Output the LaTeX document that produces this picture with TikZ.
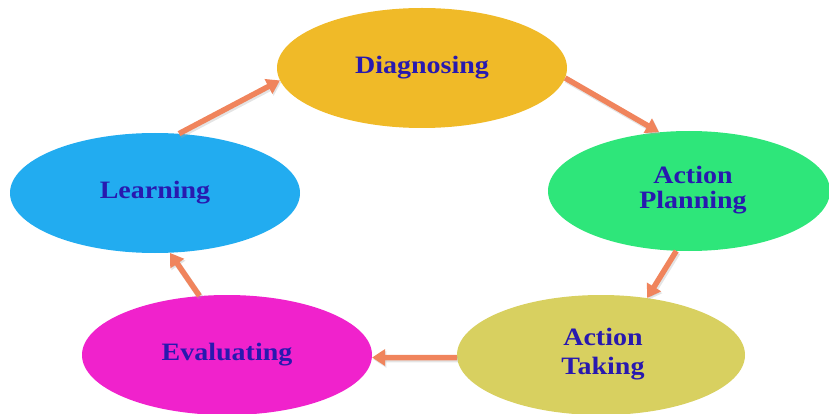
\documentclass[tikz,border=0pt]{standalone}
\usepackage{fontspec}
\setmainfont{Liberation Serif}
\usetikzlibrary{shapes.geometric,arrows.meta}

\definecolor{labelblue}{RGB}{40,25,175}
\definecolor{cdiag}{RGB}{240,186,40}
\definecolor{cplan}{RGB}{46,230,122}
\definecolor{clearn}{RGB}{34,172,240}
\definecolor{ceval}{RGB}{240,34,204}
\definecolor{ctake}{RGB}{216,208,96}
\definecolor{carrow}{RGB}{240,132,92}

\newcommand{\steplabel}[1]{\scalebox{1.12}[1]{\begin{tabular}{@{}c@{}}#1\end{tabular}}}

\tikzset{
  phase/.style={ellipse, draw=none, inner sep=0pt,
    minimum width=290pt, minimum height=120pt,
    font=\fontsize{25}{24}\selectfont\bfseries, text=labelblue},
  flow/.style={draw=carrow, line width=5.5pt,
    -{Triangle[length=13pt,width=16pt]}},
  flowshadow/.style={draw=black!35, opacity=0.3, line width=6pt,
    -{Triangle[length=13pt,width=16pt]}, transform canvas={shift={(1.2pt,-1.8pt)}}}
}

\begin{document}
\begin{tikzpicture}[x=1pt,y=-1pt]
  \useasboundingbox (0,0) rectangle (829,414);

  \node[phase, fill=cdiag] (diag) at (422,68) {\steplabel{Diagnosing}};
  \node[phase, fill=cplan, minimum width=282pt] (plan) at (689,191) {\hspace{8pt}\steplabel{Action\\Planning}};
  \node[phase, fill=ctake, minimum width=288pt] (take) at (601,355) {\hspace{4pt}\steplabel{Action\\[5pt]Taking}};
  \node[phase, fill=ceval] (eval) at (227,355) {\steplabel{Evaluating}};
  \node[phase, fill=clearn] (learn) at (155,193) {\steplabel{Learning}};

  % soft shadows under the connectors
  \draw[flowshadow] (learn.68) -- (diag.185);
  \draw[flowshadow] (diag.-4) -- (plan.117);
  \draw[flowshadow] (plan.258) -- (take.51);
  \draw[flowshadow] (take.181) -- (eval.-1);
  \draw[flowshadow] (eval.115) -- (learn.284);

  % cycle connectors
  \draw[flow] (learn.68) -- (diag.185);
  \draw[flow] (diag.-4) -- (plan.117);
  \draw[flow] (plan.258) -- (take.51);
  \draw[flow] (take.181) -- (eval.-1);
  \draw[flow] (eval.115) -- (learn.284);
\end{tikzpicture}
\end{document}
